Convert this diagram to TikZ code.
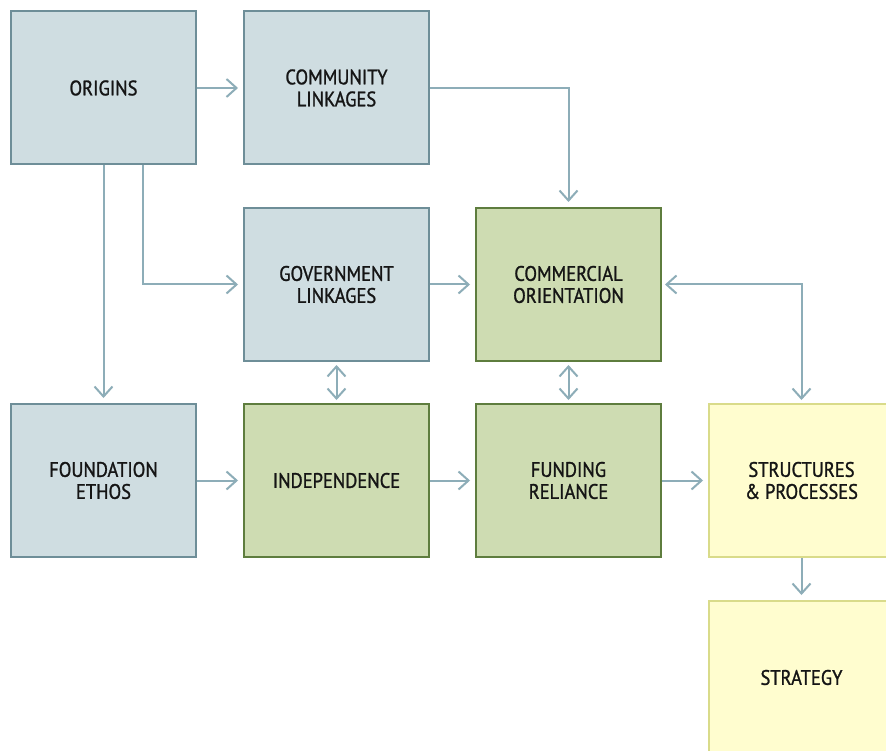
\documentclass[tikz,border=0pt]{standalone}
\usepackage{fontspec}
\setmainfont{PT Sans}[FakeStretch=0.88, FakeBold=1.2]
\usetikzlibrary{arrows.meta}
\definecolor{bluefill}{HTML}{CFDDE1}
\definecolor{blueline}{HTML}{6E8E98}
\definecolor{greenfill}{HTML}{CEDCB2}
\definecolor{greenline}{HTML}{5E7D3E}
\definecolor{yellowfill}{HTML}{FFFDCF}
\definecolor{yellowline}{HTML}{D9DB8A}
\definecolor{conn}{HTML}{8DADB8}
\definecolor{txt}{HTML}{151515}
\tikzset{
  box/.style={rectangle, line width=2pt, minimum width=185pt, minimum height=153pt,
    align=center, text=txt, font=\fontsize{21}{22}\selectfont, inner sep=0pt},
  bluebox/.style={box, fill=bluefill, draw=blueline},
  greenbox/.style={box, fill=greenfill, draw=greenline},
  yellowbox/.style={box, fill=yellowfill, draw=yellowline},
  arr/.style={draw=conn, line width=2pt, -{Straight Barb[length=10pt,width=18pt,line width=2pt]}, shorten >=5pt},
  darr/.style={draw=conn, line width=2pt, {Straight Barb[length=10pt,width=18pt,line width=2pt]}-{Straight Barb[length=10pt,width=18pt,line width=2pt]}, shorten >=3pt, shorten <=3pt}
}
\begin{document}
\begin{tikzpicture}[x=1pt,y=-1pt]
\useasboundingbox (0,0) rectangle (886,751);
\clip (0,0) rectangle (886,751);
\fill[white] (0,0) rectangle (886,751);
\node[bluebox] (origins) at (103.5,88) {ORIGINS};
\node[bluebox] (community) at (336.5,88) {COMMUNITY\\LINKAGES};
\node[bluebox] (government) at (336.5,284.5) {GOVERNMENT\\LINKAGES};
\node[greenbox] (commercial) at (568.5,284.5) {COMMERCIAL\\ORIENTATION};
\node[bluebox] (foundation) at (103.5,480.5) {FOUNDATION\\ETHOS};
\node[greenbox] (independence) at (336.5,480.5) {INDEPENDENCE};
\node[greenbox] (funding) at (568.5,480.5) {FUNDING\\RELIANCE};
\node[yellowbox] (structures) at (801.5,480.5) {STRUCTURES\\\& PROCESSES};
\node[yellowbox] (strategy) at (801.5,677.5) {STRATEGY};

\draw[arr] (origins.east) -- (community.west);
\draw[arr] (community.east) -| (commercial.north);
\draw[arr] (origins.south) -- (foundation.north);
\draw[arr] ([xshift=39.5pt]origins.south) |- (government.west);
\draw[arr] (government.east) -- (commercial.west);
\draw[darr] (government.south) -- (independence.north);
\draw[darr] (commercial.south) -- (funding.north);
\draw[darr] (commercial.east) -| (structures.north);
\draw[arr] (foundation.east) -- (independence.west);
\draw[arr] (independence.east) -- (funding.west);
\draw[arr] (funding.east) -- (structures.west);
\draw[arr] (structures.south) -- (strategy.north);
\end{tikzpicture}
\end{document}
